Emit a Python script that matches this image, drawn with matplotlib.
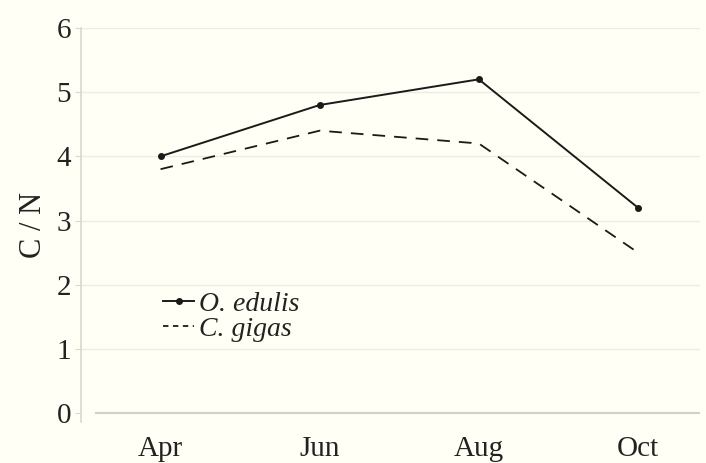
import matplotlib
matplotlib.use("Agg")
import matplotlib.pyplot as plt
from matplotlib.lines import Line2D

months = ["Apr", "Jun", "Aug", "Oct"]
o_edulis = [4.0, 4.8, 5.2, 3.2]
c_gigas = [3.8, 4.4, 4.2, 2.5]
yticks = [0, 1, 2, 3, 4, 5, 6]

plt.rcParams['font.family'] = ['Liberation Serif', 'DejaVu Serif']
bg = '#fffff5'

fig = plt.figure(figsize=(7.06, 4.63), dpi=100, facecolor=bg)
ax = fig.add_axes([81/706, (463-422)/463, (700-81)/706, (422-28)/463])
ax.set_facecolor(bg)

x = list(range(len(months)))
ax.plot(x, o_edulis, color='#1a1a1a', lw=1.4, marker='o', ms=4, label='O. edulis')
ax.plot(x, c_gigas, color='#1a1a1a', lw=1.3, ls=(0, (7, 5)), label='C. gigas')

ax.set_xlim(-0.5, 3.39)
ax.set_ylim(-0.14, 6)
ax.set_yticks(yticks)
ax.set_xticks(x)
ax.set_xticklabels(months)
for y in yticks[1:]:
    ax.axhline(y, color='#ecece2', lw=1.0, zorder=0)
ax.axhline(0, xmin=0.025, color='#d0d0cc', lw=1.5, zorder=0)

for s in ['top', 'right', 'bottom']:
    ax.spines[s].set_visible(False)
ax.spines['left'].set_color('#d8d8d4')
ax.spines['left'].set_linewidth(1.2)

ax.tick_params(axis='y', length=4, color='#d8d8d4', labelsize=21, pad=3, labelcolor='#222222')
ax.tick_params(axis='x', length=0, labelsize=21, pad=10, labelcolor='#222222')
ax.set_ylabel('C / N', fontsize=22, color='#222222', labelpad=6)

handles = [Line2D([], [], color='#1a1a1a', lw=1.4, marker='o', ms=4),
           Line2D([], [], color='#1a1a1a', lw=1.3, ls=(0, (3, 2.5)))]
leg = ax.legend(handles, ['O. edulis', 'C. gigas'], loc='upper left',
                bbox_to_anchor=(0.115, 0.36), frameon=False,
                prop={'family': 'Liberation Serif', 'style': 'italic', 'size': 20},
                handlelength=1.1, handletextpad=0.2, labelspacing=0.0,
                borderaxespad=0)
for t in leg.get_texts():
    t.set_color('#222222')

fig.savefig('out.png', dpi=100, facecolor=bg)
